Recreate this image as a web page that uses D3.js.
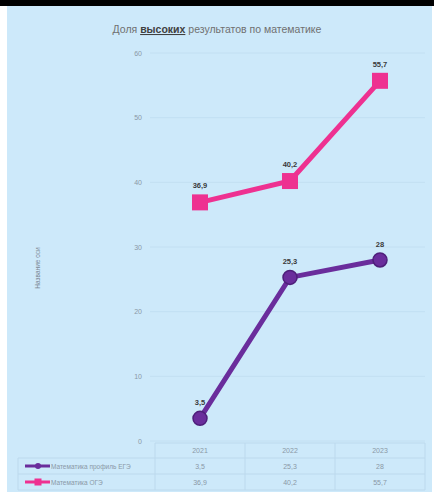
<!DOCTYPE html>
<html><head><meta charset="utf-8">
<script src="https://cdn.jsdelivr.net/npm/d3@7"></script>
<style>body{margin:0;background:#fff}svg{display:block}</style>
</head><body>
<svg id="c" width="434" height="494"></svg>
<script>
const years = ["2021", "2022", "2023"];
const egeProfile = [3.5, 25.3, 28];
const oge = [36.9, 40.2, 55.7];
const seriesNames = ["Математика профиль ЕГЭ", "Математика ОГЭ"];
const yTicks = [0, 10, 20, 30, 40, 50, 60];

const svg = d3.select("#c");
const bg = "#cde9fa";
svg.append("rect").attr("x", 7).attr("y", 6).attr("width", 425).attr("height", 486).attr("fill", bg);
svg.append("rect").attr("x", 0).attr("y", 0).attr("width", 434).attr("height", 6).attr("fill", "#000");

const x = d3.scaleBand().domain(years).range([155, 425]);
const y = d3.scaleLinear().domain([0, 60]).range([441, 53]);
const fmt = v => String(v).replace(".", ",");

// gridlines
svg.append("g").selectAll("line").data(yTicks).join("line")
  .attr("x1", 150).attr("x2", 425)
  .attr("y1", d => y(d)).attr("y2", d => y(d))
  .attr("stroke", "#c2dff2").attr("stroke-width", 1);

// y axis
const yAxis = d3.axisLeft(y).tickValues(yTicks).tickSize(0).tickPadding(8);
const ga = svg.append("g").attr("transform", "translate(150,0)").call(yAxis);
ga.select(".domain").remove();
ga.selectAll("text").attr("fill", "#8a98a6").attr("font-family", "Liberation Sans, Arial").attr("font-size", 7);

// title
const t = svg.append("text").attr("x", 217).attr("y", 33).attr("text-anchor", "middle")
  .attr("font-family", "Liberation Sans, Arial").attr("font-size", 10.5).attr("fill", "#707070");
t.append("tspan").text("Доля ");
t.append("tspan").text("высоких").attr("font-weight", "bold").attr("text-decoration", "underline").attr("fill", "#404040");
t.append("tspan").text(" результатов по математике");

// y title
svg.append("text").attr("transform", "translate(40,268) rotate(-90)").attr("text-anchor", "middle")
  .attr("font-family", "Liberation Sans, Arial").attr("font-size", 6.5).attr("fill", "#7a8793").text("Название оси");

const line = d3.line().x((d, i) => x(years[i]) + x.bandwidth() / 2).y(d => y(d));
const colors = ["#6a2d9c", "#ee3191"];

// lines
svg.append("path").datum(oge).attr("d", line).attr("fill", "none").attr("stroke", colors[1]).attr("stroke-width", 5);
svg.append("path").datum(egeProfile).attr("d", line).attr("fill", "none").attr("stroke", colors[0]).attr("stroke-width", 5);

// markers
svg.append("g").selectAll("rect").data(oge).join("rect")
  .attr("x", (d, i) => x(years[i]) + x.bandwidth() / 2 - 8)
  .attr("y", d => y(d) - 8).attr("width", 16).attr("height", 16).attr("fill", colors[1]);
svg.append("g").selectAll("circle").data(egeProfile).join("circle")
  .attr("cx", (d, i) => x(years[i]) + x.bandwidth() / 2)
  .attr("cy", d => y(d)).attr("r", 7).attr("fill", colors[0]).attr("stroke", "#4e1f7a").attr("stroke-width", 1.5);

// data labels
function labels(data, off) {
  svg.append("g").selectAll("text").data(data).join("text")
    .attr("x", (d, i) => x(years[i]) + x.bandwidth() / 2)
    .attr("y", d => y(d) - off).attr("text-anchor", "middle")
    .attr("font-family", "Liberation Sans, Arial").attr("font-size", 7.5).attr("font-weight", "bold")
    .attr("fill", "#3a3a3a").text(d => fmt(d));
}
labels(oge, 14);
labels(egeProfile, 13);

// data table
const tg = svg.append("g");
const rowsY = [443, 458, 474, 490];
const gridC = "#bcd9ed";
tg.selectAll("line.h").data(rowsY).join("line")
  .attr("x1", (d, i) => i === 0 ? 155 : 18).attr("x2", 425)
  .attr("y1", d => d).attr("y2", d => d).attr("stroke", gridC);
const vx = [18, 155, 245, 335, 425];
tg.selectAll("line.v").data(vx).join("line")
  .attr("x1", d => d).attr("x2", d => d)
  .attr("y1", (d, i) => i === 0 ? 458 : 443).attr("y2", 490).attr("stroke", gridC);

const cellFont = g => g.attr("font-family", "Liberation Sans, Arial").attr("font-size", 7).attr("fill", "#8a98a6").attr("text-anchor", "middle");
tg.append("g").selectAll("text").data(years).join("text")
  .attr("x", d => x(d) + x.bandwidth() / 2).attr("y", 453).text(d => d).call(cellFont);
tg.append("g").selectAll("text").data(egeProfile).join("text")
  .attr("x", (d, i) => x(years[i]) + x.bandwidth() / 2).attr("y", 469).text(d => fmt(d)).call(cellFont);
tg.append("g").selectAll("text").data(oge).join("text")
  .attr("x", (d, i) => x(years[i]) + x.bandwidth() / 2).attr("y", 485).text(d => fmt(d)).call(cellFont);

// legend keys
[0, 1].forEach(i => {
  const yy = i === 0 ? 466 : 482;
  tg.append("line").attr("x1", 25).attr("x2", 50).attr("y1", yy).attr("y2", yy).attr("stroke", colors[i]).attr("stroke-width", 3);
  if (i === 0) tg.append("circle").attr("cx", 38).attr("cy", yy).attr("r", 3).attr("fill", colors[0]);
  else tg.append("rect").attr("x", 34.5).attr("y", yy - 3.5).attr("width", 7).attr("height", 7).attr("fill", colors[1]);
  tg.append("text").attr("x", 51).attr("y", yy + 2.5).attr("font-family", "Liberation Sans, Arial")
    .attr("font-size", 6.5).attr("fill", "#8a98a6").text(seriesNames[i]);
});
</script>
</body></html>
